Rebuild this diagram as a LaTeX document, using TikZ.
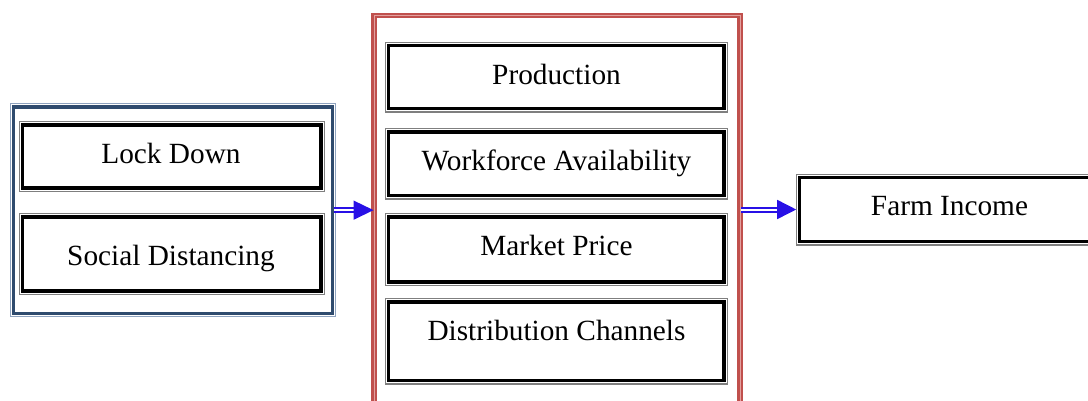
\documentclass[tikz,border=0pt]{standalone}
\usepackage{fontspec}
\setmainfont{Liberation Serif}
\usetikzlibrary{arrows.meta}
\definecolor{navy}{HTML}{2F4B6E}
\definecolor{navylight}{HTML}{8FA3BF}
\definecolor{boxred}{HTML}{C0504D}
\definecolor{boxpink}{HTML}{E3A19F}
\definecolor{arrowblue}{RGB}{40,16,230}
\definecolor{edgegray}{HTML}{7F7F7F}
\begin{document}
\begin{tikzpicture}[x=1pt,y=-1pt,
  every node/.style={outer sep=0pt, inner sep=0pt},
  blk/.style={draw=black, line width=3.5pt},
  grayline/.style={draw=edgegray, line width=1.2pt},
  lbl/.style={anchor=base, font=\fontsize{29.3}{34}\selectfont},
  dshaft/.style={draw=arrowblue, line width=1.8pt, double=white, double distance=2.1pt},
  headfill/.style={fill=arrowblue}]
\useasboundingbox (0,0) rectangle (1088,400);
\clip (0,0) rectangle (1088,400);
% left blue group box
\node[draw=navy, line width=3.3pt, minimum width=318.8pt, minimum height=206.3pt] (lbox) at (173.1,210.15) {};
\draw[draw=navylight, line width=1.1pt] ([shift={(-3.4pt,3.4pt)}]lbox.north west) rectangle ([shift={(3.4pt,-3.4pt)}]lbox.south east);
% middle red group box
\node[draw=boxred, line width=2.1pt, double=boxpink, double distance=1pt, minimum width=366pt, minimum height=404.5pt] (mbox) at (557,217.75) {};
% inner boxes
\node[blk, minimum width=298.5pt, minimum height=63.2pt] (lock) at (171.75,156.6) {};
\node[blk, minimum width=298.5pt, minimum height=74.2pt] (social) at (171.75,253.9) {};
\node[blk, minimum width=335.7pt, minimum height=63pt] (prod) at (556.35,77) {};
\node[blk, minimum width=335.7pt, minimum height=63.7pt] (work) at (556.35,163.65) {};
\node[blk, minimum width=335.7pt, minimum height=65.4pt] (market) at (556.35,249.5) {};
\node[blk, minimum width=335.7pt, minimum height=78.7pt] (dist) at (556.35,341.15) {};
\node[blk, minimum width=300pt, minimum height=64pt] (farm) at (949.5,209.5) {};
\foreach \n in {lock,social,prod,work,market,dist,farm}
  \draw[grayline] ([shift={(-3.4pt,3.4pt)}]\n.north west) rectangle ([shift={(3.4pt,-3.4pt)}]\n.south east);
% texts
\node[lbl] (tlock) at (171,163) {Lock Down};
\node[lbl] (tsocial) at (171,265) {Social Distancing};
\node[lbl] (tprod) at (556.5,84) {Production};
\node[lbl] (twork) at (556.5,170) {Workforce Availability};
\node[lbl] (tmarket) at (556.5,255) {Market Price};
\node[lbl] (tdist) at (556.5,340) {Distribution Channels};
\node[lbl] (tfarm) at (949.5,215) {Farm Income};
% arrows
\coordinate (tipA) at ([xshift=-0.5pt]lbox.east -| mbox.west);
\draw[dshaft] ([xshift=1.6pt]lbox.east) -- ([xshift=-19pt]tipA);
\fill[headfill] (tipA) -- ++(-20pt,9.7pt) -- ++(0,-19.4pt) -- cycle;
\coordinate (tipB) at ([xshift=-3.3pt]farm.west);
\draw[dshaft] ([xshift=1pt,yshift=-0.6pt]mbox.east |- farm.west) -- ([xshift=-18pt,yshift=-0.6pt]tipB);
\fill[headfill] (tipB) -- ++(-19pt,9.7pt) -- ++(0,-19.4pt) -- cycle;
\end{tikzpicture}
\end{document}
